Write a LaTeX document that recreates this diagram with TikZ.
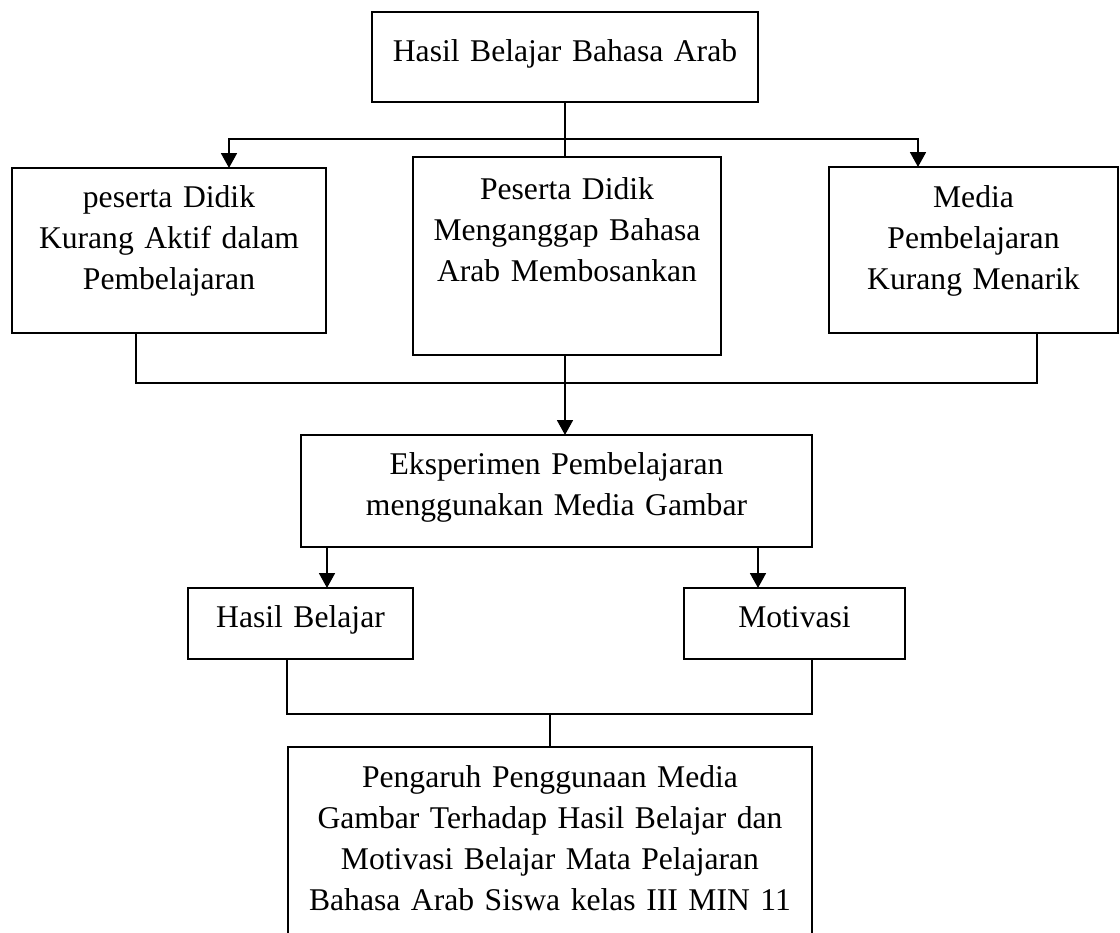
\documentclass[tikz,border=0pt]{standalone}
\usepackage{fontspec}
\setmainfont{Liberation Serif}
\usetikzlibrary{arrows.meta,positioning}

\begin{document}
\begin{tikzpicture}[x=0.02cm, y=-0.02cm]
        \fontsize{18pt}{23.3pt}\selectfont
          \tikzset{
              mybox/.style={rectangle, draw=black, line width=1.2pt, inner sep=0pt, outer sep=0pt, align=center, anchor=north},
              myarrow/.style={-{Triangle[length=8.5pt, width=9pt]}, line width=1.3pt},
              myline/.style={line width=1.1pt}
          }
          \useasboundingbox (0,0) rectangle (1120,933);
          \node[mybox, text width=7.72cm, text height=1cm, text depth=0.8cm] (judul) at (565,12) {Hasil Belajar Bahasa Arab};
          \node[mybox, text width=6.28cm, text height=0.8cm, text depth=2.5cm] (pasif) at (169,168) {peserta Didik\\Kurang Aktif dalam\\Pembelajaran};
          \node[mybox, text width=6.16cm, text height=0.86cm, text depth=3.1cm] (bosan) at (567,157) {Peserta Didik\\Menganggap Bahasa\\Arab Membosankan};
          \node[mybox, text width=5.78cm, text height=0.82cm, text depth=2.5cm] (media) at (973.5,167) {Media\\Pembelajaran\\Kurang Menarik};
          \node[mybox, text width=10.22cm, text height=0.8cm, text depth=1.44cm] (eksperimen) at (556.5,435) {Eksperimen Pembelajaran\\menggunakan Media Gambar};
          \node[mybox, text width=4.5cm, text height=0.8cm, text depth=0.62cm] (hasil) at (300.5,588) {Hasil Belajar};
          \node[mybox, text width=4.42cm, text height=0.8cm, text depth=0.62cm] (motivasi) at (794.5,588) {Motivasi};
          \node[mybox, text width=10.48cm, text height=0.82cm, text depth=3.24cm] (pengaruh) at (550,747) {Pengaruh Penggunaan Media\\Gambar Terhadap Hasil Belajar dan\\Motivasi Belajar Mata Pelajaran\\Bahasa Arab Siswa kelas III MIN 11};

          \coordinate (cabang) at (judul.south |- 0,139);
          \draw[myline] (judul.south) -- (judul.south |- bosan.north);
          \draw[myarrow] (cabang) -| ([xshift=1.2cm]pasif.north);
          \draw[myarrow] (cabang) -| ([xshift=-1.11cm]media.north);
          \draw[myline] ([xshift=-0.66cm]pasif.south) -- ++(0,50) -| ([xshift=1.27cm]media.south);
          \draw[myarrow] (judul.south |- bosan.south) -- (judul.south |- eksperimen.north);
          \draw[myarrow] ([xshift=0.53cm]hasil.north |- eksperimen.south) -- ([xshift=0.53cm]hasil.north);
          \draw[myarrow] ([xshift=-0.73cm]motivasi.north |- eksperimen.south) -- ([xshift=-0.73cm]motivasi.north);
          \draw[myline] ([xshift=-0.27cm]hasil.south) -- ++(0,55) -| ([xshift=0.35cm]motivasi.south);
          \draw[myline] (pengaruh.north) -- ++(0,-33);
        \end{tikzpicture}
\end{document}
